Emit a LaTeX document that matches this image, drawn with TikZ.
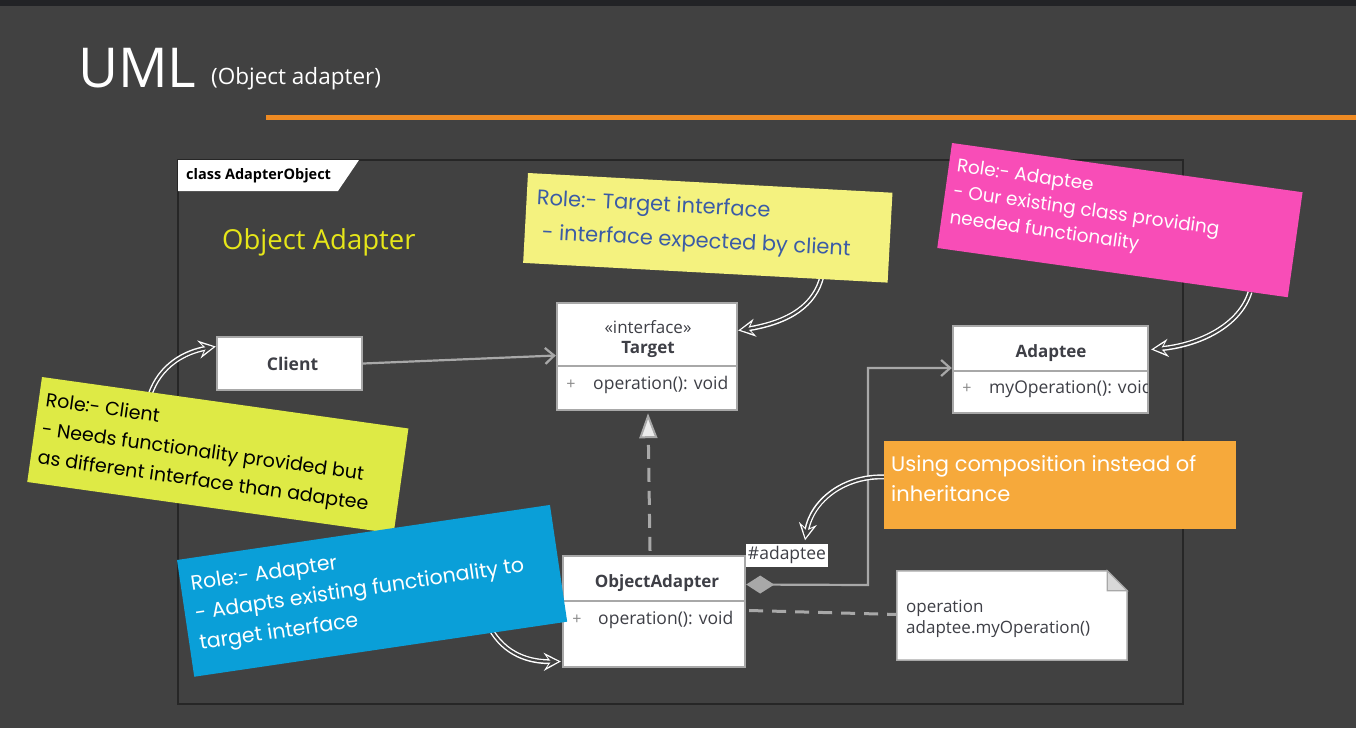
\documentclass[tikz,border=0pt]{standalone}
\usepackage{fontspec}
\setmainfont{Open Sans}
\newfontfamily\hand{Poppins}
\usetikzlibrary{arrows.meta,calc}
\definecolor{bg}{HTML}{414141}
\definecolor{topband}{HTML}{222326}
\definecolor{framec}{HTML}{262626}
\definecolor{orangeline}{HTML}{EE8A22}
\definecolor{titleyellow}{HTML}{E6E619}
\definecolor{clsborder}{HTML}{A8A8A8}
\definecolor{clstext}{HTML}{3E3F46}
\definecolor{plusgray}{HTML}{8A8A8A}
\definecolor{ynote}{HTML}{F4F27F}
\definecolor{pnote}{HTML}{F84DB7}
\definecolor{gnote}{HTML}{DEEA45}
\definecolor{bnote}{HTML}{0A9FD8}
\definecolor{onote}{HTML}{F6A93B}
\definecolor{bluetext}{HTML}{3B5CA6}
\definecolor{foldgray}{HTML}{D8D8D8}
\begin{document}
\begin{tikzpicture}[x=1pt,y=-1pt,
  cls/.style={draw=clsborder, fill=white, line width=2.4pt, rectangle, inner sep=0},
  ctext/.style={text=clstext, inner sep=0, font=\fontsize{17.5}{17.5}\selectfont},
  cname/.style={text=clstext, inner sep=0, font=\bfseries\fontsize{17}{17}\selectfont},
  plus/.style={text=plusgray, inner sep=0, font=\fontsize{16}{16}\selectfont},
  divider/.style={draw=clsborder, line width=2.4pt},
  assoc/.style={draw=clsborder, line width=2.2pt},
  dashgray/.style={draw=clsborder, line width=3pt, dash pattern=on 14pt off 9pt},
  callout/.style={draw=bg, line width=2.2pt, shorten >=2.6pt,
    -{Stealth[length=11pt,width=11pt,inset=4pt]},
    preaction={draw=white, line width=5pt, shorten >=0pt, -{Stealth[length=17pt,width=18pt,inset=6pt]}}},
  handtext/.style={inner sep=0, align=left, anchor=north west, transform shape,
    font=\hand\fontsize{20}{30}\selectfont}
]
\useasboundingbox (0,0) rectangle (1356,728);
\fill[bg] (0,0) rectangle (1356,728);
\fill[topband] (0,0) rectangle (1356,6);

% title
\node[anchor=base west, inner sep=0, text=white, font=\fontsize{55}{55}\selectfont] (title) at (78,87) {UML};
\node[anchor=base west, inner sep=0, text=white, font=\fontsize{22.5}{22.5}\selectfont] (subtitle) at (211,84) {(Object adapter)};
\fill[orangeline] (266,115) rectangle (1356,120);

% frame
\draw[framec, line width=1.6pt] (178,160) rectangle (1183,704);
\fill[white] (178,160) -- (359,160) -- (338,191) -- (178,191) -- cycle;
\node[anchor=west, inner sep=0, text=black, font=\bfseries\fontsize{14.5}{14.5}\selectfont] (tab) at (186,176) {class AdapterObject};
\node[anchor=west, inner sep=0, text=titleyellow, font=\fontsize{27.5}{27.5}\selectfont] (heading) at (222,242) {Object Adapter};

% classes
\node[cls, minimum width=145, minimum height=53] (client) at (289.5,363.5) {};
\node[cname, font=\bfseries\fontsize{17.5}{17.5}\selectfont] (clientname) at ($(client.center)+(3,0)$) {Client};

\node[cls, minimum width=180, minimum height=107] (target) at (647,356.5) {};
\node[ctext, font=\fontsize{17}{17}\selectfont] (tst) at (648,327) {«interface»};
\node[cname] (tname) at (648,349) {Target};
\draw[divider] (target.west |- 0,366) -- (target.east |- 0,366);
\node[plus] (tplus) at (571,385) {+};
\node[ctext, anchor=west] (top) at (593,385) {operation(): void};

\node[cls, minimum width=195, minimum height=87] (adaptee) at (1050.5,369.5) {};
\node[cname] (aname) at (1051,353) {Adaptee};
\draw[divider] (adaptee.west |- 0,371) -- (adaptee.east |- 0,371);
\node[plus] (aplus) at (967,389) {+};
\begin{scope}
\clip (953,372) rectangle (1147,412);
\node[ctext, anchor=west] (aop) at (989,389) {myOperation(): void};
\end{scope}

\node[cls, minimum width=182, minimum height=111] (oadapter) at (654,611.5) {};
\node[cname] (oname) at (657,583) {ObjectAdapter};
\draw[divider] (oadapter.west |- 0,601) -- (oadapter.east |- 0,601);
\node[plus] (oplus) at (577,620) {+};
\node[ctext, anchor=west] (oop) at (598,620) {operation(): void};

% note
\node[minimum width=230, minimum height=89, inner sep=0] (note) at (1012,615.5) {};
\fill[white, draw=clsborder, line width=1.5pt] (note.north west) -- ($(note.north east)+(-20,0)$) -- ($(note.north east)+(0,20)$) -- (note.south east) -- (note.south west) -- cycle;
\fill[foldgray, draw=clsborder, line width=1.2pt] ($(note.north east)+(-20,0)$) -- ($(note.north east)+(-20,20)$) -- ($(note.north east)+(0,20)$) -- cycle;
\node[ctext, anchor=west, font=\fontsize{17}{17}\selectfont] (n1) at (906,608) {operation};
\node[ctext, anchor=west, font=\fontsize{17}{17}\selectfont] (n2) at (906,629) {adaptee.myOperation()};

% connectors
\draw[assoc, -{Straight Barb[length=9pt,width=16pt]}] (client.east) -- ($(target.west)+(0,-1)$);
\draw[dashgray, -{Triangle[length=25pt,width=18pt,fill=white!92!black,line width=2pt]}] ($(oadapter.north)+(-4,-4)$) -- ($(target.south)+(1,2)$);
\draw[assoc, {Diamond[length=28pt,width=18pt,fill=clsborder]}-{Straight Barb[length=9pt,width=16pt]}] ($(oadapter.east)+(0,-27)$) -- (868,585) -- (868,368) -- ($(adaptee.west)+(0,-1.5)$);
\draw[dashgray] ($(oadapter.east)+(3,-1)$) -- ($(note.west)+(0,-1)$);
\node[fill=white, text=clstext, inner sep=2pt, minimum height=23, font=\fontsize{17.5}{17.5}\selectfont] (lbl) at (787,555) {\#adaptee};

% callout arrows
\coordinate (gstart) at (150,395);
\coordinate (ystart) at (822,276);
\coordinate (pstart) at (1250,292);
\coordinate (ostart) at (886,477);
\coordinate (bstart) at (490,628);
\draw[callout] (gstart) .. controls (160,365) and (185,352) .. ($(client.west)+(0,-17)$);
\draw[callout] (ystart) .. controls (815,305) and (790,322) .. ($(target.east)+(0,-26)$);
\draw[callout] (pstart) .. controls (1240,325) and (1200,345) .. ($(adaptee.east)+(2,-20)$);
\draw[callout] (ostart) .. controls (845,475) and (812,500) .. ($(lbl.north)+(18,-3)$);
\draw[callout] (bstart) .. controls (505,655) and (530,662) .. ($(oadapter.west)+(-1,50)$);

% sticky notes
\begin{scope}[shift={(528,173)}, rotate=-3.1]
  \fill[ynote] (0,0) rectangle (365,90);
  \node[handtext, text=bluetext, font=\hand\fontsize{21}{34}\selectfont] (ytext) at (10,15) {Role:- Target interface\\\hspace*{7pt}- interface expected by client};
\end{scope}
\begin{scope}[shift={(952,143)}, rotate=-8]
  \fill[pnote] (0,0) rectangle (354,106);
  \node[handtext, text=white, font=\hand\fontsize{18.5}{26}\selectfont] (ptext) at (8,14) {Role:- Adaptee\\- Our existing class providing\\needed functionality};
\end{scope}
\begin{scope}[shift={(42,377)}, rotate=-8]
  \fill[gnote] (0,0) rectangle (370,106);
  \node[handtext, text=black, font=\hand\fontsize{19}{29}\selectfont] (gtext) at (7,14) {Role:- Client\\- Needs functionality provided but\\as different interface than adaptee};
\end{scope}
\begin{scope}[shift={(177,560)}, rotate=8.4]
  \fill[bnote] (0,0) rectangle (377,118);
  \node[handtext, text=white, font=\hand\fontsize{20.5}{30}\selectfont] (btext) at (10,17) {Role:- Adapter\\- Adapts existing functionality to\\target interface};
\end{scope}
\fill[onote] (884,441) rectangle (1236,529);
\node[handtext, text=white, anchor=north west, font=\hand\fontsize{21}{30}\selectfont] (otext) at (891,455) {Using composition instead of\\inheritance};
\end{tikzpicture}
\end{document}
